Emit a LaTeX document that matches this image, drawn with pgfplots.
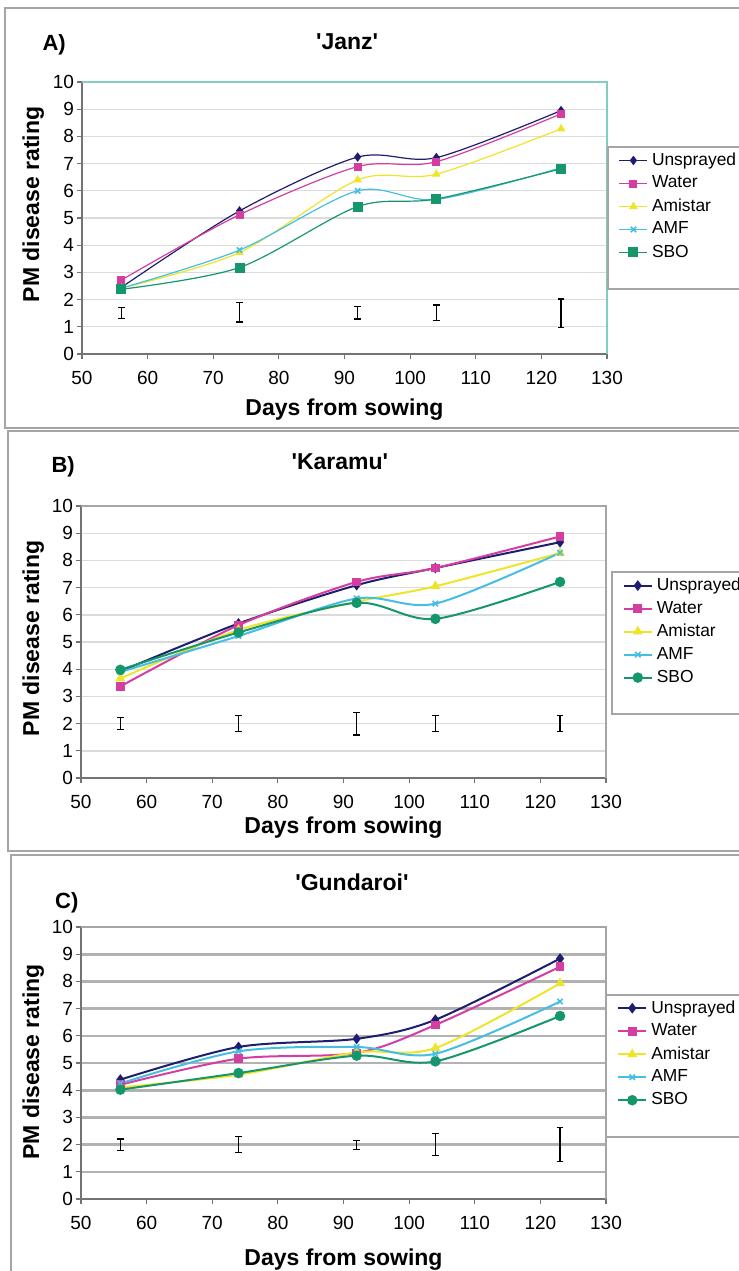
\documentclass[border=0pt]{standalone}
\usepackage{fontspec}
\setmainfont{Liberation Sans}
\usepackage{pgfplots}
\pgfplotsset{compat=1.18}

\definecolor{cUns}{RGB}{30,30,110}
\definecolor{cWat}{RGB}{212,62,160}
\definecolor{cAmi}{RGB}{238,228,40}
\definecolor{cAmf}{RGB}{70,190,225}
\definecolor{cSbo}{RGB}{22,150,108}
\definecolor{axgray}{RGB}{115,115,115}
\definecolor{panelgray}{RGB}{165,165,165}
\definecolor{frameteal}{RGB}{130,205,190}

\pgfplotsset{
  panel/.style={
    scale only axis, width=262.5pt, height=136pt,
    xmin=50, xmax=130, ymin=0, ymax=10,
    xtick={50,60,...,130}, ytick={0,1,...,10},
    axis x line*=bottom, axis y line*=left,
    axis line style={axgray, line width=0.8pt},
    tick align=outside, major tick length=2.5pt,
    tick style={axgray, line width=0.6pt},
    ymajorgrids,
    /pgf/number format/assume math mode=true,
    tick label style={font=\fontsize{9.5}{10}\selectfont},
    xticklabel style={yshift=-2.5pt},
    yticklabel style={xshift=2pt},
    label style={font=\bfseries\fontsize{11.5}{12}\selectfont},
    xlabel={Days from sowing}, ylabel={PM disease rating},
    legend image code/.code={
      \draw[mark repeat=2, mark phase=2, ##1] plot coordinates {(0pt,0pt) (7pt,0pt) (14pt,0pt)};},
    legend cell align=left,
    legend style={anchor=north west, draw=panelgray, line width=0.8pt, fill=white,
      font=\fontsize{8.7}{9}\selectfont, inner ysep=1pt, inner xsep=5.5pt, row sep=0pt,
      nodes={minimum height=11.5pt, inner ysep=0pt},
      column 2/.style={text width=58pt}},
    clip=false,
  },
  frame/.style={after end axis/.code={
    \draw[#1, line width=0.8pt] (rel axis cs:0,1) -- (rel axis cs:1,1) -- (rel axis cs:1,0);}},
  heads/.style n args={5}{extra description/.code={
    \node[font=\bfseries\fontsize{11.5}{12}\selectfont] at (#1) {\textquotesingle #2\textquotesingle};
    \node[font=\bfseries\fontsize{11}{12}\selectfont] at (#3) {#4)};}},
  uns/.style={cUns, line width=#1, smooth, mark=diamond*, mark size=1.9pt, mark options={solid, fill=cUns}},
  wat/.style={cWat, line width=#1, smooth, mark=square*, mark size=1.7pt, mark options={solid, fill=cWat}},
  ami/.style={cAmi, line width=#1, smooth, mark=triangle*, mark size=1.9pt, mark options={solid, fill=cAmi}},
  amf/.style={cAmf, line width=#1, smooth, mark=x, mark size=1.9pt, mark options={solid, line width=0.8pt}},
  lsd/.style={draw=none, mark=none, forget plot, error bars/.cd, y dir=both, y explicit,
    error mark=|, error bar style={draw=black, line width=0.6pt},
    error mark options={draw=black, mark size=1.6pt, line width=0.6pt}},
}

\begin{document}
\begin{tikzpicture}
\useasboundingbox (0,0) rectangle (369.5pt,-635.5pt);
\draw[panelgray, line width=1pt] (2.5pt,-4pt) rectangle (380pt,-214pt);
\draw[panelgray, line width=1pt] (4pt,-215.5pt) rectangle (380pt,-425.5pt);
\draw[panelgray, line width=1pt] (5.5pt,-427.5pt) rectangle (380pt,-640pt);

% A) Janz
\begin{axis}[panel, at={(41pt,-177pt)}, anchor=south west,
  frame=frameteal,
  grid style={gray!28, line width=0.6pt},
  xlabel style={at={(axis description cs:0.5,-0.205)}, anchor=center},
  ylabel style={at={(axis description cs:-0.093,0.55)}, anchor=center},
  legend style={at={(axis description cs:1.0,0.764)}},
  heads={0.505,1.147}{Janz}{-0.053,1.135}{A},
]
\addplot[lsd] coordinates {(56,1.50) +- (0,0.20) (74,1.53) +- (0,0.35) (92,1.52) +- (0,0.23) (104,1.51) +- (0,0.29) (123,1.50) +- (0,0.52)};
\addplot[uns=0.6pt] coordinates {(56,2.45) (74,5.26) (92,7.24) (104,7.22) (123,8.95)};
\addlegendentry{Unsprayed}
\addplot[wat=0.6pt] coordinates {(56,2.72) (74,5.12) (92,6.89) (104,7.07) (123,8.83)};
\addlegendentry{Water}
\addplot[ami=0.6pt] coordinates {(56,2.42) (74,3.73) (92,6.40) (104,6.61) (123,8.28)};
\addlegendentry{Amistar}
\addplot[amf=0.6pt] coordinates {(56,2.42) (74,3.82) (92,6.00) (104,5.68) (123,6.85)};
\addlegendentry{AMF}
\addplot[cSbo, line width=0.6pt, smooth, mark=square*, mark size=2.2pt, mark options={solid, fill=cSbo}]
  coordinates {(56,2.38) (74,3.18) (92,5.42) (104,5.70) (123,6.81)};
\addlegendentry{SBO}
\addlegendimage{empty legend}\addlegendentry{}
\end{axis}

% B) Karamu
\begin{axis}[panel, at={(40.5pt,-389pt)}, anchor=south west,
  frame=panelgray,
  grid style={gray!28, line width=0.7pt},
  xlabel style={at={(axis description cs:0.5,-0.184)}, anchor=center},
  ylabel style={at={(axis description cs:-0.091,0.513)}, anchor=center},
  legend style={at={(axis description cs:1.0095,0.760)}},
  heads={0.493,1.162}{Karamu}{-0.034,1.144}{B},
]
\addplot[lsd] coordinates {(56,2.00) +- (0,0.23) (74,2.00) +- (0,0.30) (92,1.99) +- (0,0.41) (104,2.00) +- (0,0.30) (123,2.00) +- (0,0.30)};
\addplot[uns=1pt] coordinates {(56,3.92) (74,5.68) (92,7.09) (104,7.72) (123,8.67)};
\addlegendentry{Unsprayed}
\addplot[wat=1pt] coordinates {(56,3.37) (74,5.62) (92,7.21) (104,7.72) (123,8.88)};
\addlegendentry{Water}
\addplot[ami=1pt] coordinates {(56,3.66) (74,5.44) (92,6.48) (104,7.05) (123,8.27)};
\addlegendentry{Amistar}
\addplot[amf=1pt] coordinates {(56,3.90) (74,5.22) (92,6.60) (104,6.41) (123,8.28)};
\addlegendentry{AMF}
\addplot[cSbo, line width=1pt, smooth, mark=*, mark size=2.1pt, mark options={solid, fill=cSbo}]
  coordinates {(56,3.98) (74,5.35) (92,6.44) (104,5.85) (123,7.21)};
\addlegendentry{SBO}
\addlegendimage{empty legend}\addlegendentry{}
\end{axis}

% C) Gundaroi
\begin{axis}[panel, at={(40.5pt,-599.5pt)}, anchor=south west,
  frame=panelgray,
  grid style={gray!60, line width=1.3pt},
  xlabel style={at={(axis description cs:0.5,-0.224)}, anchor=center},
  ylabel style={at={(axis description cs:-0.091,0.504)}, anchor=center},
  legend style={at={(axis description cs:0.999,0.754)}},
  heads={0.516,1.165}{Gundaroi}{-0.027,1.088}{C},
]
\addplot[lsd] coordinates {(56,2.00) +- (0,0.21) (74,2.01) +- (0,0.29) (92,1.98) +- (0,0.17) (104,2.00) +- (0,0.40) (123,2.00) +- (0,0.62)};
\addplot[uns=1pt] coordinates {(56,4.39) (74,5.59) (92,5.89) (104,6.59) (123,8.84)};
\addlegendentry{Unsprayed}
\addplot[wat=1pt] coordinates {(56,4.20) (74,5.16) (92,5.37) (104,6.40) (123,8.54)};
\addlegendentry{Water}
\addplot[ami=1pt] coordinates {(56,4.10) (74,4.57) (92,5.39) (104,5.55) (123,7.93)};
\addlegendentry{Amistar}
\addplot[amf=1pt] coordinates {(56,4.25) (74,5.43) (92,5.59) (104,5.34) (123,7.26)};
\addlegendentry{AMF}
\addplot[cSbo, line width=1pt, smooth, mark=*, mark size=2.1pt, mark options={solid, fill=cSbo}]
  coordinates {(56,4.02) (74,4.63) (92,5.27) (104,5.06) (123,6.73)};
\addlegendentry{SBO}
\addlegendimage{empty legend}\addlegendentry{}
\end{axis}
\end{tikzpicture}
\end{document}
